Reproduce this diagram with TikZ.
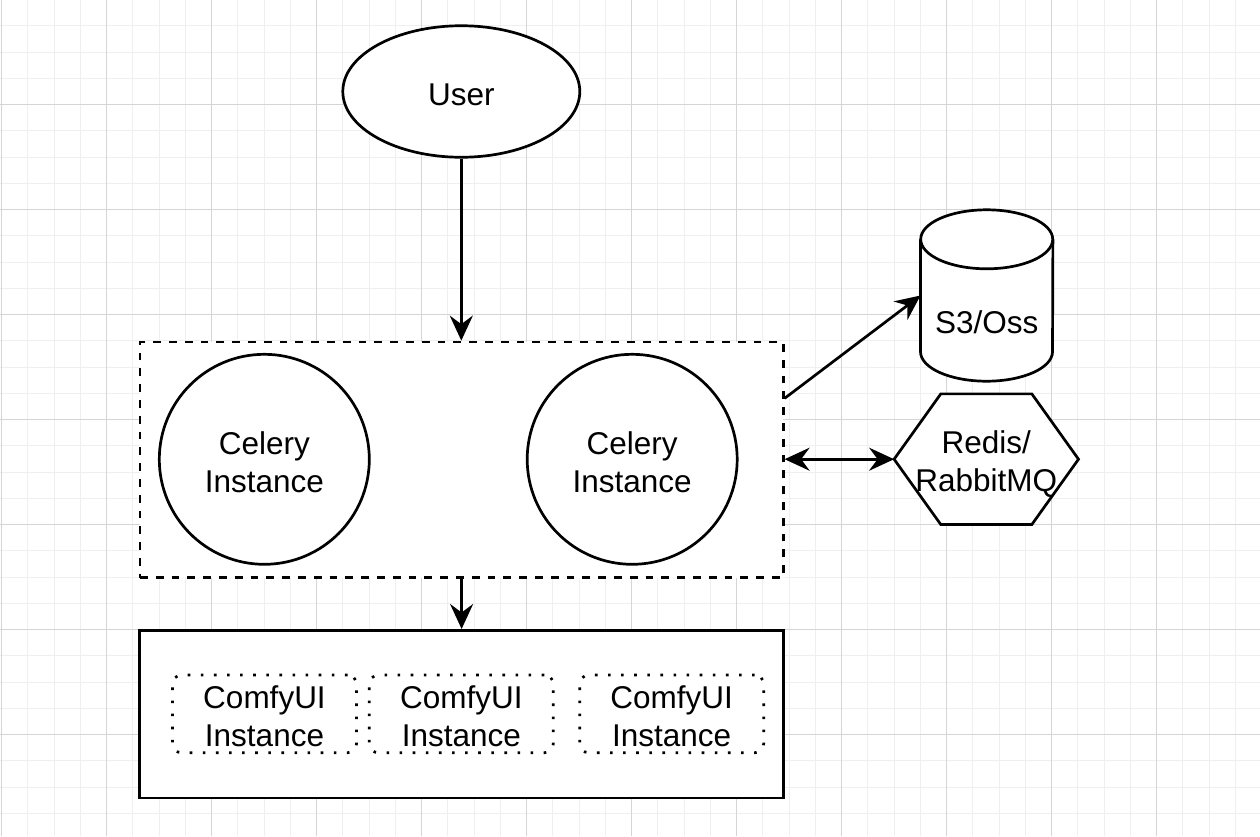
\documentclass[tikz,border=0pt]{standalone}
\usepackage{fontspec}
\setmainfont{Liberation Sans}
\usetikzlibrary{arrows.meta,shapes.geometric,calc}
\definecolor{minorgrid}{HTML}{EFEFEF}
\definecolor{majorgrid}{HTML}{D5D5D5}
\tikzset{
  lbl/.style={font=\fontsize{31.5}{37.8}\selectfont, align=center, text=black},
  shp/.style={draw=black, line width=2.7pt, fill=white},
  dashbox/.style={shp, dash pattern=on 7.9pt off 7.9pt},
  dotbox/.style={shp, dash pattern=on 2.6pt off 10.5pt, rounded corners=9pt},
  tipa/.tip={Stealth[length=25pt,width=23pt,inset=8.5pt]},
  conn/.style={line width=2.7pt, -tipa},
  dconn/.style={line width=2.7pt, tipa-tipa},
  minorline/.style={draw=minorgrid, line width=1pt},
  majorline/.style={draw=majorgrid, line width=1pt},
}
\begin{document}
\begin{tikzpicture}[x=1pt,y=-1pt]
\useasboundingbox (0,0) rectangle (1260,836);
\fill[white] (0,0) rectangle (1260,836);
% grid
\foreach \i in {0,...,48} \draw[minorline] ({1.5+26.25*\i},0) -- ({1.5+26.25*\i},836);
\foreach \i in {1,...,31} \draw[minorline] (0,{-0.5+26.25*\i}) -- (1260,{-0.5+26.25*\i});
\foreach \i in {0,...,11} \draw[majorline] ({1.5+105*\i},0) -- ({1.5+105*\i},836);
\foreach \i in {1,...,7} \draw[majorline] (0,{-0.5+105*\i}) -- (1260,{-0.5+105*\i});

% user
\node[shp, ellipse, minimum width=237pt, minimum height=131.5pt, inner sep=0pt, lbl] (user) at (461.3,91.5) {\rule{0pt}{27.3pt}User};

% celery group
\node[dashbox, rectangle, minimum width=643.3pt, minimum height=235.5pt, inner sep=0pt] (cel) at (461.6,459.75) {};
\node[shp, circle, minimum size=210pt, inner sep=0pt, lbl] (c1) at (264.3,459.3) {\rule{0pt}{29pt}Celery\\Instance};
\node[shp, circle, minimum size=210pt, inner sep=0pt, lbl] (c2) at (632.2,459.3) {\rule{0pt}{29pt}Celery\\Instance};

% comfy group
\node[shp, rectangle, minimum width=644pt, minimum height=167.7pt, inner sep=0pt] (comfy) at (461.3,714.2) {};
\node[dotbox, minimum width=184pt, minimum height=77.7pt, inner sep=0pt, lbl] (u1) at (264.5,713.9) {\rule{0pt}{27.5pt}ComfyUI\\Instance};
\node[dotbox, minimum width=184pt, minimum height=77.7pt, inner sep=0pt, lbl] (u2) at (461.3,713.9) {\rule{0pt}{27.5pt}ComfyUI\\Instance};
\node[dotbox, minimum width=184pt, minimum height=77.7pt, inner sep=0pt, lbl] (u3) at (671.7,713.9) {\rule{0pt}{27.5pt}ComfyUI\\Instance};

% cylinder S3/Oss
\node[minimum width=132pt, minimum height=171pt, inner sep=0pt] (s3) at (986.7,295.5) {};
\fill[white] ($(s3.north west)+(0,29.5)$) -- ($(s3.south west)+(0,-29.5)$)
  arc[start angle=180, end angle=360, x radius=66pt, y radius=29.5pt]
  -- ($(s3.north east)+(0,29.5)$) -- cycle;
\draw[line width=2.7pt] ($(s3.north west)+(0,29.5)$) -- ($(s3.south west)+(0,-29.5)$)
  arc[start angle=180, end angle=360, x radius=66pt, y radius=29.5pt]
  -- ($(s3.north east)+(0,29.5)$);
\draw[shp] ($(s3.north)+(0,29.5)$) ellipse [x radius=66pt, y radius=29.5pt];
\node[lbl] (s3t) at (986.7,322.5) {S3/Oss};

% hexagon Redis/RabbitMQ
\node[minimum width=184pt, minimum height=130.3pt, inner sep=0pt] (mq) at (986.3,459.2) {};
\draw[shp, line join=miter] (mq.west) -- ($(mq.north west)+(46.7,0)$) -- ($(mq.north east)+(-46.7,0)$)
  -- (mq.east) -- ($(mq.south east)+(-46.7,0)$) -- ($(mq.south west)+(46.7,0)$) -- cycle;
\node[lbl] (mqt) at (986.3,463.8) {Redis/\\RabbitMQ};

% connectors
\draw[conn] (user.south) -- (user.south |- cel.north);
\draw[conn] (cel.south) -- (cel.south |- comfy.north);
\draw[conn] ([yshift=61.4pt]cel.east) -- (s3.west);
\draw[dconn] (cel.east |- mq.west) -- (mq.west);
\end{tikzpicture}
\end{document}
